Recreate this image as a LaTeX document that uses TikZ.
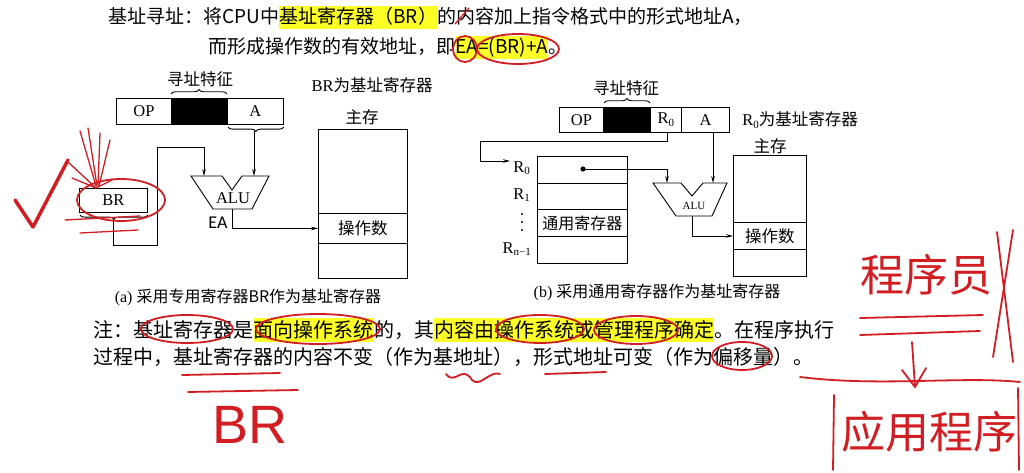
\documentclass[tikz,border=0pt]{standalone}
\usepackage{fontspec}
\setmainfont{Liberation Serif}
\newfontfamily\cjk{Noto Sans CJK SC}
\newfontfamily\calfont{Carlito}
\newfontfamily\hsans{Liberation Sans}
\usetikzlibrary{arrows.meta,decorations.pathreplacing}
\definecolor{hly}{RGB}{255,255,40}
\definecolor{hred}{RGB}{210,30,35}
\newcommand\Rs[1]{R\raisebox{-0.35ex}{\fontsize{11}{11}\selectfont #1}}
\begin{document}
\begin{tikzpicture}[x=1pt,y=-1pt,
 ln/.style={line width=0.9pt},
 arr/.style={ln,-{Stealth[length=7pt,width=3.6pt]}},
 brc/.style={ln,decorate,decoration={brace,amplitude=4.5pt}},
 box/.style={draw,ln,inner sep=0pt,anchor=north west},
 lbl/.style={inner sep=0pt,font=\fontsize{16.5}{18}\selectfont},
 clbl/.style={inner sep=0pt,font=\cjk\fontsize{16.5}{18}\selectfont},
 seg/.style={inner sep=0pt,anchor=base west,font=\cjk\fontsize{19}{20}\selectfont,text height=18pt,text depth=5pt},
 hl/.style={seg,fill=hly},
 nseg/.style={inner sep=0pt,anchor=base west,font=\cjk\fontsize{20}{22}\selectfont,text height=19pt,text depth=5pt},
 nhl/.style={nseg,fill=hly},
 hand/.style={draw=hred,line width=1.8pt,line cap=round,line join=round},
 thin/.style={hand,line width=1.3pt},
 htext/.style={text=hred,inner sep=0pt,font=\cjk\fontsize{44}{44}\selectfont},
]
\useasboundingbox (0,0) rectangle (1024,473);
\fill[white] (0,0) rectangle (1024,473);

% ---------- top text ----------
\node[seg] (l1a) at (108,24) {基址寻址：将CPU中};
\node[hl]  (l1b) at (l1a.base east) {基址寄存器（BR）};
\node[seg] (l1c) at (l1b.base east) {的内容加上指令格式中的形式地址A，};
\node[seg] (l2a) at (208,54) {而形成操作数的有效地址，即};
\node[hl]  (l2b) at (l2a.base east) {EA=(BR)+A};
\node[seg] (l2c) at (l2b.base east) {。};

% ---------- (a) ----------
\node[clbl] (tzA) at (200,79) {寻址特征};
\node[box,minimum width=55pt,minimum height=26pt] (opA) at (116,98) {\fontsize{16.5}{18}\selectfont OP};
\node[box,fill=black,minimum width=56pt,minimum height=26pt] (blkA) at (171,98) {};
\node[box,minimum width=56pt,minimum height=26pt] (fA) at (227,98) {\fontsize{16.5}{18}\selectfont A};
\draw[brc] (blkA.north west) ++(0,-4) -- ++(56,0);
\draw[brc] (fA.south east) ++(0,2) -- ++(-56,0);

\node[lbl] (brnote) at (372,85) {BR{\cjk 为基址寄存器}};
\node[clbl] (zcA) at (362,117) {主存};
\node[box,minimum width=89pt,minimum height=84pt] (memA1) at (318,129) {};
\node[box,minimum width=89pt,minimum height=30pt] (memAop) at (318,213) {\cjk\fontsize{16.5}{18}\selectfont 操作数};
\node[box,minimum width=89pt,minimum height=35pt] (memA3) at (318,243) {};

\node[box,minimum width=68pt,minimum height=24pt] (brA) at (79,188) {\fontsize{16.5}{18}\selectfont BR};
\draw[brc] (brA.south east) ++(0,2) -- ++(-68,0);

\draw[ln] (191,176) -- (222,176) -- (232,190) -- (242,176) -- (269,176) -- (252,209) -- (213,209) -- cycle;
\node[lbl] (aluA) at (233,198) {ALU};
\coordinate (aluAl) at (204,176);
\coordinate (aluAr) at (254,176);
\coordinate (aluAo) at (232,209);
\coordinate (brAtip) at (113,219);
\coordinate (fAtip) at (254,131);
\node[inner sep=0pt,font=\calfont\fontsize{18}{18}\selectfont] (eaA) at (218,223) {EA};

\draw[arr] (brAtip) -- (113,245) -- (157,245) -- (157,147) -- (204,147) -- (aluAl);
\draw[arr] (fAtip) -- (aluAr);
\draw[arr] (aluAo) |- (memAop.west);

\node[inner sep=0pt,font=\fontsize{16}{18}\selectfont] (capA) at (248,297) {(a) {\cjk 采用专用寄存器BR作为基址寄存器}};

% ---------- (b) ----------
\node[clbl] (tzB) at (626,88) {寻址特征};
\node[box,minimum width=44pt,minimum height=25pt] (opB) at (559,107) {\fontsize{16.5}{18}\selectfont OP};
\node[box,fill=black,minimum width=47pt,minimum height=25pt] (blkB) at (603,107) {};
\node[box,minimum width=31pt,minimum height=25pt] (rB) at (650,107) {\fontsize{16.5}{18}\selectfont\Rs{0}};
\node[box,minimum width=48pt,minimum height=25pt] (fB) at (681,107) {\fontsize{16.5}{18}\selectfont A};
\draw[brc] (blkB.north west) ++(1,-4) -- ++(46,0);
\node[lbl] (r0note) at (800,120) {\Rs{0}{\cjk 为基址寄存器}};

\node[box,minimum width=90pt,minimum height=27pt] (g0) at (537,156) {};
\node[box,minimum width=90pt,minimum height=26pt] (g1) at (537,183) {};
\node[box,minimum width=90pt,minimum height=27pt] (g2) at (537,209) {\cjk\fontsize{16}{18}\selectfont 通用寄存器};
\node[box,minimum width=90pt,minimum height=27pt] (g3) at (537,236) {};
\node[lbl,anchor=east] (lr0) at (530,168) {\Rs{0}};
\node[lbl,anchor=east] (lr1) at (530,195) {\Rs{1}};
\node[lbl,anchor=east] (lrn) at (531,249) {\Rs{n\char"2212 1}};
\fill (522,214) circle (1.1) (522,222) circle (1.1) (522,230) circle (1.1);

\coordinate (r0in) at (510,161);
\draw[arr] (667,132) -- (667,141) -- (480,141) -- (480,161) -- (r0in);

\draw[ln] (653,183) -- (681,183) -- (692,196) -- (703,183) -- (727,183) -- (712,216) -- (676,216) -- cycle;
\node[inner sep=0pt,font=\fontsize{11}{12}\selectfont] (aluB) at (694,206) {ALU};
\coordinate (aluBl) at (667,183);
\coordinate (aluBr) at (713,183);
\coordinate (aluBo) at (692,216);
\coordinate (dotB) at (583,169);
\coordinate (fBout) at (713,132);
\fill (dotB) circle (2.6);
\draw[arr] (dotB) -- (667,169) -- (aluBl);
\draw[arr] (fBout) -- (aluBr);

\node[clbl] (zcB) at (770,146) {主存};
\node[box,minimum width=73pt,minimum height=67pt] (memB1) at (733,155) {};
\node[box,minimum width=73pt,minimum height=27pt] (memBop) at (733,222) {\cjk\fontsize{16.5}{18}\selectfont 操作数};
\node[box,minimum width=73pt,minimum height=27pt] (memB3) at (733,249) {};
\draw[arr] (aluBo) |- (memBop.west);

\node[inner sep=0pt,font=\fontsize{16}{18}\selectfont] (capB) at (657,292) {(b) {\cjk 采用通用寄存器作为基址寄存器}};

% ---------- note ----------
\node[nseg] (n1a) at (93,337) {注：基址寄存器是};
\node[nhl]  (n1b) at (n1a.base east) {面向操作系统};
\node[nseg] (n1c) at (n1b.base east) {的，其};
\node[nhl]  (n1d) at (n1c.base east) {内容由操作系统或管理程序确定};
\node[nseg] (n1e) at (n1d.base east) {。在程序执行};
\node[nseg] (n2)  at (93,364) {过程中，基址寄存器的内容不变（作为基地址），形式地址可变（作为偏移量）。};

% ---------- red hand annotations ----------
\draw[thin] (455,24) -- (469,8);
\draw[hand] (465,49) ellipse [x radius=12, y radius=13];
\draw[hand] (518,49) ellipse [x radius=41, y radius=15];

\draw[hand,line width=3.5pt] (15,200) -- (33,227) -- (68,160);
\draw[thin] (80,131) -- (96,186);
\draw[thin] (88,128) -- (97,186);
\draw[thin] (100,133) -- (98,186);
\draw[thin] (110,140) -- (99,186);
\draw[thin] (68,162) -- (96,188);
\draw[thin] (72,178) -- (96,188) -- (112,180);
\draw[hand] (121,200) ellipse [x radius=44, y radius=21];
\draw[thin] (65,220) -- (140,216);
\draw[thin] (80,233) -- (138,230);

\draw[hand] (187,329) ellipse [x radius=46, y radius=14];
\draw[hand] (318,329) ellipse [x radius=62, y radius=15];
\draw[hand] (540,329) ellipse [x radius=44, y radius=14];
\draw[hand] (636,330) ellipse [x radius=42, y radius=14];
\draw[hand] (182,375) -- (280,373);
\draw[hand] (188,392) -- (298,390);
\draw[hand] (446,374) .. controls (455,386) and (462,364) .. (472,380) .. controls (480,388) and (490,370) .. (500,374);
\draw[hand] (545,374) -- (606,372);
\draw[hand] (742,356) ellipse [x radius=30, y radius=14];
\node[inner sep=0pt,text=hred,font=\hsans\fontsize{54}{54}\selectfont] (hbr) at (250,425) {BR};

\node[htext] (cxy) at (926,275) {程序员};
\draw[hand] (860,318) -- (983,315);
\draw[hand] (860,335) -- (980,331);
\coordinate (arrtop) at (912,342);
\coordinate (arrbot) at (915,387);
\draw[hand] (arrtop) -- (arrbot);
\draw[hand] (902,370) -- (arrbot) -- (926,368);
\draw[hand] (800,377) .. controls (880,387) and (960,376) .. (1020,382);
\draw[hand] (834,395) -- (833,470);
\draw[hand] (1018,388) -- (1019,470);
\node[htext] (yycx) at (929,432) {应用程序};
\draw[hand] (1013,230) -- (993,357);
\draw[hand] (997,232) -- (1013,362);
\end{tikzpicture}
\end{document}
